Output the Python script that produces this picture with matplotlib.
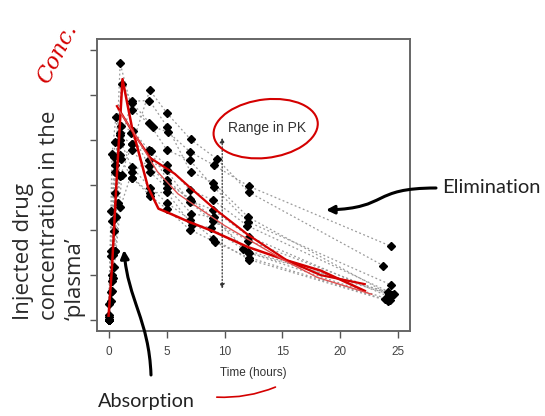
import matplotlib
matplotlib.use("Agg")
import matplotlib.pyplot as plt
from matplotlib.patches import Ellipse, FancyArrowPatch
from matplotlib.path import Path

# ---- data: 12 subjects (time in hours, concentration) ----
subject_times = [
    [0, 0.25, 0.57, 1.12, 2.02, 3.82, 5.10, 7.03, 9.05, 12.12, 24.37],
    [0, 0.27, 0.52, 1.00, 1.92, 3.50, 5.02, 7.03, 9.00, 12.00, 24.30],
    [0, 0.27, 0.58, 1.02, 2.02, 3.62, 5.08, 7.07, 9.00, 12.15, 24.17],
    [0, 0.35, 0.60, 1.07, 2.13, 3.50, 5.02, 7.02, 9.02, 11.98, 24.65],
    [0, 0.30, 0.52, 1.00, 2.02, 3.50, 5.02, 7.02, 9.10, 12.00, 24.35],
    [0, 0.27, 0.58, 1.15, 2.03, 3.57, 5.00, 7.00, 9.22, 12.10, 23.85],
    [0, 0.25, 0.50, 1.02, 2.02, 3.48, 5.00, 6.98, 9.00, 12.05, 24.22],
    [0, 0.25, 0.52, 0.98, 2.02, 3.53, 5.05, 7.15, 9.07, 12.10, 24.12],
    [0, 0.30, 0.63, 1.05, 2.02, 3.53, 5.02, 7.17, 8.80, 11.60, 24.43],
    [0, 0.37, 0.77, 1.02, 2.05, 3.55, 5.05, 7.08, 9.38, 12.10, 23.70],
    [0, 0.25, 0.50, 0.98, 1.98, 3.60, 5.02, 7.03, 9.03, 12.12, 24.08],
    [0, 0.25, 0.50, 1.00, 2.00, 3.52, 5.07, 7.07, 9.03, 12.05, 24.15],
]
subject_conc = [
    [0.74, 2.84, 6.57, 10.50, 9.66, 8.58, 8.36, 7.47, 6.89, 5.94, 3.28],
    [0.00, 1.72, 7.91, 8.31, 8.33, 6.85, 6.08, 5.40, 4.55, 3.01, 0.90],
    [0.00, 4.40, 6.90, 8.20, 7.80, 7.50, 6.20, 5.30, 4.90, 3.70, 1.05],
    [0.00, 1.89, 4.60, 8.60, 8.38, 7.54, 6.88, 5.78, 5.33, 4.19, 1.15],
    [0.00, 2.02, 5.63, 11.40, 9.33, 8.74, 7.56, 7.09, 5.90, 4.37, 1.57],
    [0.00, 1.29, 3.08, 6.44, 6.32, 5.53, 4.94, 4.02, 3.46, 2.78, 0.92],
    [0.15, 0.85, 2.35, 5.02, 6.58, 7.09, 6.66, 5.25, 4.39, 3.53, 1.15],
    [0.00, 3.05, 3.05, 7.31, 7.56, 6.59, 5.88, 4.73, 4.57, 3.00, 1.25],
    [0.00, 7.37, 9.03, 7.14, 6.33, 5.66, 5.67, 4.24, 4.11, 3.16, 1.12],
    [0.24, 2.89, 5.22, 6.41, 7.83, 10.21, 9.18, 8.02, 7.14, 5.68, 2.42],
    [0.00, 4.86, 7.24, 8.00, 6.81, 5.87, 5.22, 4.45, 3.62, 2.69, 0.86],
    [0.00, 1.25, 3.96, 7.82, 9.72, 9.75, 8.57, 6.59, 6.11, 4.57, 1.17],
]

# hand-drawn red traces
red_a_t = [0.0, 0.3, 0.7, 1.2, 2.0, 3.4, 4.3, 5.0, 7.0, 9.0, 12.0, 15.4, 18.3, 22.1]
red_a_c = [0.2, 2.4, 6.3, 10.7, 8.6, 5.9, 4.95, 4.8, 4.35, 3.95, 3.25, 2.65, 2.2, 1.3]
red_b_t = [0.72, 1.9, 3.6, 5.7, 7.0, 9.0, 12.0, 15.4, 18.3, 22.1]
red_b_c = [9.5, 8.5, 7.2, 6.5, 5.9, 5.0, 3.8, 2.65, 2.0, 1.6]
red_c_t = [0.9, 2.2, 4.2, 6.0, 8.0, 10.0, 12.0, 15.0, 18.0, 22.7]
red_c_c = [9.3, 8.3, 6.6, 5.6, 4.9, 4.2, 3.6, 2.7, 1.9, 1.15]

x_ticks = [0, 5, 10, 15, 20, 25]
y_ticks = [0, 2, 4, 6, 8, 10, 12]
range_t = 9.8
range_c = [1.4, 8.1]

W, H = 545, 416
fig = plt.figure(figsize=(W / 100, H / 100), dpi=100)
fig.patch.set_facecolor("white")

def fx(px):
    return px / W

def fy(py):
    return 1 - py / H

narrow = ["Liberation Sans Narrow", "Liberation Sans"]

ax = fig.add_axes([fx(97), fy(331), fx(410) - fx(97), fy(39) - fy(331)])
ax.set_xlim(-1.0, 26.0)
ax.set_ylim(-0.48, 12.48)

for t, c in zip(subject_times, subject_conc):
    ax.plot(t, c, color="#9a9a9a", lw=0.9, linestyle=(0, (1.5, 2.0)), zorder=1)
for t, c in zip(subject_times, subject_conc):
    ax.plot(t, c, linestyle="none", marker="D", markersize=4.0,
            color="black", zorder=3)

ax.plot(red_a_t, red_a_c, color="#d40000", lw=1.8, zorder=4)
ax.plot(red_b_t, red_b_c, color="#d40000", lw=1.6, zorder=4)
ax.plot(red_c_t, red_c_c, color="#e05050", lw=1.0, zorder=4)

# range arrow
ax.annotate("", xy=(range_t, range_c[1]), xytext=(range_t, range_c[0]),
            arrowprops=dict(arrowstyle="<|-|>", linestyle=":", color="#333333",
                            lw=0.9, mutation_scale=7, shrinkA=0, shrinkB=0),
            zorder=2)
ax.text(13.65, 8.55, "Range in PK", fontsize=10, family=narrow,
        color="#333333", ha="center", va="center")
ax.add_patch(Ellipse((13.55, 8.5), 9.0, 2.6, angle=3, fill=False,
                     edgecolor="#d40000", lw=1.5, zorder=5))

ax.set_xticks(x_ticks)
ax.set_xticklabels([str(v) for v in x_ticks], fontsize=8.5, color="#444444",
                   family=narrow)
ax.set_yticks(y_ticks)
ax.set_yticklabels([])
ax.tick_params(direction="out", length=5, width=1, color="#555555", pad=6)
for s in ax.spines.values():
    s.set_color("#666666")
    s.set_linewidth(1.4)

fig.text(fx(253), fy(373), "Time (hours)", fontsize=8.5, color="#333333",
         family=narrow, ha="center", va="center")

# underline under "Time (hours)"
fig.add_artist(FancyArrowPatch((fx(214), fy(397)), (fx(278), fy(386)),
                               transform=fig.transFigure, arrowstyle="-",
                               connectionstyle="arc3,rad=0.12",
                               color="#d40000", lw=1.2))

# y label (three lines, rotated)
ylab_font = "Open Sans"
fig.text(fx(23), fy(320), "Injected drug", rotation=90, fontsize=16,
         family=ylab_font, color="#2a2a2a", ha="center", va="bottom")
fig.text(fx(50), fy(320), "concentration in the", rotation=90, fontsize=16,
         family=ylab_font, color="#2a2a2a", ha="center", va="bottom")
fig.text(fx(75), fy(320), "\u2018plasma\u2019", rotation=90, fontsize=16,
         family=ylab_font, color="#2a2a2a", ha="center", va="bottom")
fig.text(fx(57), fy(54), "Conc.", rotation=63, fontsize=16, style="italic",
         family="DejaVu Serif", color="#d40000", ha="center", va="center")

fig.text(fx(98), fy(401), "Absorption", fontsize=14.3, family="Lato",
         color="#222222", ha="left", va="center")
fig.text(fx(442), fy(188), "Elimination", fontsize=14.5, family="Lato",
         color="#222222", ha="left", va="center")

# absorption arrow
fig.add_artist(FancyArrowPatch(path=Path([(fx(151), fy(375)), (fx(149), fy(320)),
                                          (fx(128), fy(300)), (fx(124), fy(250))],
                                         [Path.MOVETO, Path.CURVE4, Path.CURVE4, Path.CURVE4]),
                               transform=fig.transFigure, arrowstyle="-|>", mutation_scale=12,
                               color="black", lw=2.2))

# elimination arrow
fig.add_artist(FancyArrowPatch(path=Path([(fx(436), fy(188)), (fx(370), fy(188)),
                                          (fx(390), fy(208)), (fx(326), fy(210))],
                                         [Path.MOVETO, Path.CURVE4, Path.CURVE4, Path.CURVE4]),
                               transform=fig.transFigure, arrowstyle="-|>", mutation_scale=12,
                               color="black", lw=2.2))

fig.savefig("out.png", dpi=100)
